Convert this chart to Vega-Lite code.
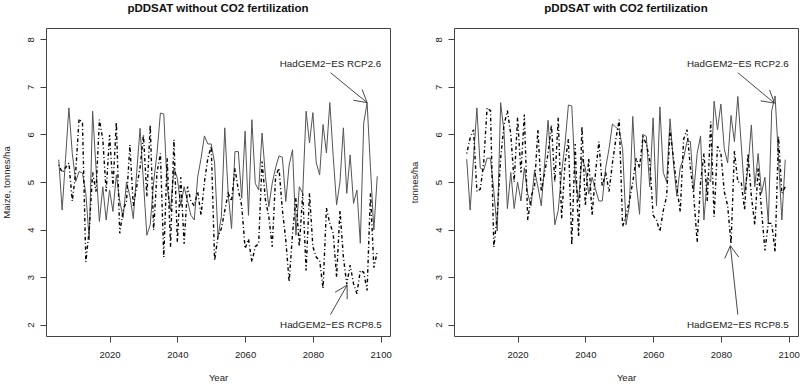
{
  "$schema": "https://vega.github.io/schema/vega-lite/v6.json",
  "background": "white",
  "padding": {"left": 0, "top": 2, "right": 0, "bottom": 2},
  "bounds": "flush",
  "spacing": 64,
  "config": {
    "view": {"stroke": "#444", "strokeWidth": 1},
    "font": "Liberation Sans",
    "axis": {"grid": false, "domain": false, "tickColor": "#444", "tickSize": 6, "labelFont": "Liberation Sans", "labelFontSize": 9.5, "labelColor": "#222", "titleFont": "Liberation Sans", "titleFontSize": 9.5, "titleFontWeight": "normal", "titleColor": "#222"},
    "title": {"font": "Liberation Sans", "fontSize": 11.5, "fontWeight": "bold", "color": "#111", "anchor": "middle", "offset": 14}
  },
  "datasets": {
    "yields": [
      {"year":2005,"no_co2_rcp26":5.47,"no_co2_rcp85":5.36,"co2_rcp26":5.48,"co2_rcp85":5.6},
      {"year":2006,"no_co2_rcp26":4.41,"no_co2_rcp85":5.2,"co2_rcp26":4.41,"co2_rcp85":5.92},
      {"year":2007,"no_co2_rcp26":5.48,"no_co2_rcp85":5.3,"co2_rcp26":5.5,"co2_rcp85":6.1},
      {"year":2008,"no_co2_rcp26":6.56,"no_co2_rcp85":5.4,"co2_rcp26":6.56,"co2_rcp85":4.8},
      {"year":2009,"no_co2_rcp26":5.6,"no_co2_rcp85":4.6,"co2_rcp26":5.29,"co2_rcp85":4.85},
      {"year":2010,"no_co2_rcp26":5.01,"no_co2_rcp85":5.2,"co2_rcp26":5.25,"co2_rcp85":5.4},
      {"year":2011,"no_co2_rcp26":5.22,"no_co2_rcp85":6.33,"co2_rcp26":5.5,"co2_rcp85":6.56},
      {"year":2012,"no_co2_rcp26":5.19,"no_co2_rcp85":6.24,"co2_rcp26":5.5,"co2_rcp85":6.5},
      {"year":2013,"no_co2_rcp26":4.76,"no_co2_rcp85":3.32,"co2_rcp26":4.8,"co2_rcp85":3.63},
      {"year":2014,"no_co2_rcp26":3.78,"no_co2_rcp85":4.0,"co2_rcp26":3.97,"co2_rcp85":4.3},
      {"year":2015,"no_co2_rcp26":6.49,"no_co2_rcp85":5.2,"co2_rcp26":6.67,"co2_rcp85":5.5},
      {"year":2016,"no_co2_rcp26":5.3,"no_co2_rcp85":4.8,"co2_rcp26":6.06,"co2_rcp85":6.2},
      {"year":2017,"no_co2_rcp26":4.17,"no_co2_rcp85":6.31,"co2_rcp26":4.44,"co2_rcp85":6.5},
      {"year":2018,"no_co2_rcp26":4.9,"no_co2_rcp85":5.9,"co2_rcp26":5.2,"co2_rcp85":6.0},
      {"year":2019,"no_co2_rcp26":4.2,"no_co2_rcp85":4.8,"co2_rcp26":4.44,"co2_rcp85":5.0},
      {"year":2020,"no_co2_rcp26":4.83,"no_co2_rcp85":5.99,"co2_rcp26":5.0,"co2_rcp85":6.35},
      {"year":2021,"no_co2_rcp26":4.38,"no_co2_rcp85":4.9,"co2_rcp26":4.6,"co2_rcp85":5.2},
      {"year":2022,"no_co2_rcp26":5.15,"no_co2_rcp85":6.26,"co2_rcp26":5.3,"co2_rcp85":6.42},
      {"year":2023,"no_co2_rcp26":4.6,"no_co2_rcp85":3.92,"co2_rcp26":4.75,"co2_rcp85":4.2},
      {"year":2024,"no_co2_rcp26":4.25,"no_co2_rcp85":4.4,"co2_rcp26":4.5,"co2_rcp85":4.7},
      {"year":2025,"no_co2_rcp26":5.0,"no_co2_rcp85":4.6,"co2_rcp26":5.25,"co2_rcp85":4.9},
      {"year":2026,"no_co2_rcp26":4.7,"no_co2_rcp85":5.78,"co2_rcp26":4.9,"co2_rcp85":6.1},
      {"year":2027,"no_co2_rcp26":4.23,"no_co2_rcp85":4.5,"co2_rcp26":4.5,"co2_rcp85":4.8},
      {"year":2028,"no_co2_rcp26":5.2,"no_co2_rcp85":4.9,"co2_rcp26":5.4,"co2_rcp85":5.2},
      {"year":2029,"no_co2_rcp26":6.13,"no_co2_rcp85":5.3,"co2_rcp26":6.3,"co2_rcp85":5.6},
      {"year":2030,"no_co2_rcp26":5.0,"no_co2_rcp85":5.99,"co2_rcp26":5.2,"co2_rcp85":6.2},
      {"year":2031,"no_co2_rcp26":3.88,"no_co2_rcp85":4.7,"co2_rcp26":4.1,"co2_rcp85":5.0},
      {"year":2032,"no_co2_rcp26":4.1,"no_co2_rcp85":6.2,"co2_rcp26":4.4,"co2_rcp85":6.35},
      {"year":2033,"no_co2_rcp26":5.0,"no_co2_rcp85":3.99,"co2_rcp26":5.2,"co2_rcp85":4.23},
      {"year":2034,"no_co2_rcp26":5.6,"no_co2_rcp85":5.2,"co2_rcp26":5.8,"co2_rcp85":5.4},
      {"year":2035,"no_co2_rcp26":6.45,"no_co2_rcp85":5.6,"co2_rcp26":6.62,"co2_rcp85":5.9},
      {"year":2036,"no_co2_rcp26":6.43,"no_co2_rcp85":3.42,"co2_rcp26":6.6,"co2_rcp85":3.67},
      {"year":2037,"no_co2_rcp26":4.9,"no_co2_rcp85":5.5,"co2_rcp26":5.1,"co2_rcp85":5.8},
      {"year":2038,"no_co2_rcp26":4.4,"no_co2_rcp85":3.64,"co2_rcp26":4.6,"co2_rcp85":3.85},
      {"year":2039,"no_co2_rcp26":5.3,"no_co2_rcp85":5.89,"co2_rcp26":5.5,"co2_rcp85":6.17},
      {"year":2040,"no_co2_rcp26":5.08,"no_co2_rcp85":3.74,"co2_rcp26":5.3,"co2_rcp85":4.5},
      {"year":2041,"no_co2_rcp26":4.5,"no_co2_rcp85":5.1,"co2_rcp26":4.75,"co2_rcp85":5.5},
      {"year":2042,"no_co2_rcp26":4.9,"no_co2_rcp85":3.7,"co2_rcp26":5.1,"co2_rcp85":4.3},
      {"year":2043,"no_co2_rcp26":4.6,"no_co2_rcp85":4.9,"co2_rcp26":4.85,"co2_rcp85":5.2},
      {"year":2044,"no_co2_rcp26":4.3,"no_co2_rcp85":4.6,"co2_rcp26":4.6,"co2_rcp85":5.85},
      {"year":2045,"no_co2_rcp26":4.2,"no_co2_rcp85":4.5,"co2_rcp26":4.6,"co2_rcp85":4.9},
      {"year":2046,"no_co2_rcp26":5.1,"no_co2_rcp85":4.8,"co2_rcp26":5.3,"co2_rcp85":5.2},
      {"year":2047,"no_co2_rcp26":5.5,"no_co2_rcp85":4.3,"co2_rcp26":5.7,"co2_rcp85":4.8},
      {"year":2048,"no_co2_rcp26":5.97,"no_co2_rcp85":5.0,"co2_rcp26":6.22,"co2_rcp85":5.4},
      {"year":2049,"no_co2_rcp26":5.8,"no_co2_rcp85":5.5,"co2_rcp26":6.15,"co2_rcp85":5.9},
      {"year":2050,"no_co2_rcp26":5.8,"no_co2_rcp85":5.75,"co2_rcp26":6.1,"co2_rcp85":6.31},
      {"year":2051,"no_co2_rcp26":5.4,"no_co2_rcp85":3.35,"co2_rcp26":5.7,"co2_rcp85":4.06},
      {"year":2052,"no_co2_rcp26":3.85,"no_co2_rcp85":3.85,"co2_rcp26":4.1,"co2_rcp85":4.3},
      {"year":2053,"no_co2_rcp26":4.27,"no_co2_rcp85":4.02,"co2_rcp26":4.5,"co2_rcp85":4.6},
      {"year":2054,"no_co2_rcp26":6.14,"no_co2_rcp85":4.4,"co2_rcp26":6.38,"co2_rcp85":5.0},
      {"year":2055,"no_co2_rcp26":4.76,"no_co2_rcp85":4.76,"co2_rcp26":5.0,"co2_rcp85":5.5},
      {"year":2056,"no_co2_rcp26":4.02,"no_co2_rcp85":4.6,"co2_rcp26":4.32,"co2_rcp85":5.3},
      {"year":2057,"no_co2_rcp26":5.64,"no_co2_rcp85":5.29,"co2_rcp26":6.0,"co2_rcp85":5.95},
      {"year":2058,"no_co2_rcp26":5.64,"no_co2_rcp85":4.83,"co2_rcp26":5.96,"co2_rcp85":5.8},
      {"year":2059,"no_co2_rcp26":4.66,"no_co2_rcp85":4.5,"co2_rcp26":4.9,"co2_rcp85":5.45},
      {"year":2060,"no_co2_rcp26":6.07,"no_co2_rcp85":3.6,"co2_rcp26":6.35,"co2_rcp85":4.3},
      {"year":2061,"no_co2_rcp26":4.3,"no_co2_rcp85":3.8,"co2_rcp26":4.5,"co2_rcp85":4.2},
      {"year":2062,"no_co2_rcp26":6.31,"no_co2_rcp85":3.32,"co2_rcp26":6.58,"co2_rcp85":3.96},
      {"year":2063,"no_co2_rcp26":4.97,"no_co2_rcp85":3.64,"co2_rcp26":5.2,"co2_rcp85":4.4},
      {"year":2064,"no_co2_rcp26":4.83,"no_co2_rcp85":3.7,"co2_rcp26":5.0,"co2_rcp85":4.7},
      {"year":2065,"no_co2_rcp26":6.03,"no_co2_rcp85":5.43,"co2_rcp26":6.33,"co2_rcp85":6.1},
      {"year":2066,"no_co2_rcp26":5.12,"no_co2_rcp85":4.62,"co2_rcp26":5.4,"co2_rcp85":5.5},
      {"year":2067,"no_co2_rcp26":4.48,"no_co2_rcp85":4.27,"co2_rcp26":4.7,"co2_rcp85":4.9},
      {"year":2068,"no_co2_rcp26":4.97,"no_co2_rcp85":3.64,"co2_rcp26":5.3,"co2_rcp85":4.37},
      {"year":2069,"no_co2_rcp26":5.3,"no_co2_rcp85":5.12,"co2_rcp26":5.5,"co2_rcp85":5.9},
      {"year":2070,"no_co2_rcp26":5.55,"no_co2_rcp85":5.29,"co2_rcp26":5.85,"co2_rcp85":6.1},
      {"year":2071,"no_co2_rcp26":5.52,"no_co2_rcp85":4.41,"co2_rcp26":5.85,"co2_rcp85":5.3},
      {"year":2072,"no_co2_rcp26":4.59,"no_co2_rcp85":3.78,"co2_rcp26":4.8,"co2_rcp85":4.7},
      {"year":2073,"no_co2_rcp26":5.36,"no_co2_rcp85":2.9,"co2_rcp26":5.6,"co2_rcp85":3.74},
      {"year":2074,"no_co2_rcp26":5.68,"no_co2_rcp85":3.92,"co2_rcp26":5.97,"co2_rcp85":4.98},
      {"year":2075,"no_co2_rcp26":3.88,"no_co2_rcp85":4.66,"co2_rcp26":4.2,"co2_rcp85":5.6},
      {"year":2076,"no_co2_rcp26":4.9,"no_co2_rcp85":3.64,"co2_rcp26":5.1,"co2_rcp85":4.6},
      {"year":2077,"no_co2_rcp26":4.76,"no_co2_rcp85":4.76,"co2_rcp26":5.0,"co2_rcp85":6.27},
      {"year":2078,"no_co2_rcp26":6.49,"no_co2_rcp85":3.14,"co2_rcp26":6.7,"co2_rcp85":4.27},
      {"year":2079,"no_co2_rcp26":5.82,"no_co2_rcp85":4.76,"co2_rcp26":6.1,"co2_rcp85":5.75},
      {"year":2080,"no_co2_rcp26":6.46,"no_co2_rcp85":3.64,"co2_rcp26":6.64,"co2_rcp85":5.6},
      {"year":2081,"no_co2_rcp26":5.4,"no_co2_rcp85":3.42,"co2_rcp26":5.7,"co2_rcp85":4.8},
      {"year":2082,"no_co2_rcp26":5.15,"no_co2_rcp85":3.35,"co2_rcp26":5.4,"co2_rcp85":4.5},
      {"year":2083,"no_co2_rcp26":6.21,"no_co2_rcp85":2.76,"co2_rcp26":6.4,"co2_rcp85":3.7},
      {"year":2084,"no_co2_rcp26":5.61,"no_co2_rcp85":4.45,"co2_rcp26":5.85,"co2_rcp85":5.65},
      {"year":2085,"no_co2_rcp26":6.67,"no_co2_rcp85":4.13,"co2_rcp26":6.8,"co2_rcp85":5.0},
      {"year":2086,"no_co2_rcp26":5.54,"no_co2_rcp85":3.92,"co2_rcp26":5.8,"co2_rcp85":5.0},
      {"year":2087,"no_co2_rcp26":4.52,"no_co2_rcp85":3.0,"co2_rcp26":4.75,"co2_rcp85":4.41},
      {"year":2088,"no_co2_rcp26":5.0,"no_co2_rcp85":4.4,"co2_rcp26":5.3,"co2_rcp85":5.6},
      {"year":2089,"no_co2_rcp26":6.14,"no_co2_rcp85":3.42,"co2_rcp26":6.2,"co2_rcp85":4.7},
      {"year":2090,"no_co2_rcp26":4.76,"no_co2_rcp85":2.85,"co2_rcp26":4.9,"co2_rcp85":4.1},
      {"year":2091,"no_co2_rcp26":5.57,"no_co2_rcp85":3.25,"co2_rcp26":5.6,"co2_rcp85":5.3},
      {"year":2092,"no_co2_rcp26":4.55,"no_co2_rcp85":2.86,"co2_rcp26":4.76,"co2_rcp85":4.4},
      {"year":2093,"no_co2_rcp26":4.83,"no_co2_rcp85":2.65,"co2_rcp26":5.1,"co2_rcp85":3.56},
      {"year":2094,"no_co2_rcp26":3.71,"no_co2_rcp85":3.14,"co2_rcp26":4.13,"co2_rcp85":4.13},
      {"year":2095,"no_co2_rcp26":6.24,"no_co2_rcp85":3.1,"co2_rcp26":6.5,"co2_rcp85":4.13},
      {"year":2096,"no_co2_rcp26":6.67,"no_co2_rcp85":2.72,"co2_rcp26":6.81,"co2_rcp85":3.53},
      {"year":2097,"no_co2_rcp26":5.3,"no_co2_rcp85":4.76,"co2_rcp26":5.5,"co2_rcp85":5.96},
      {"year":2098,"no_co2_rcp26":3.99,"no_co2_rcp85":3.2,"co2_rcp26":4.2,"co2_rcp85":4.76},
      {"year":2099,"no_co2_rcp26":5.12,"no_co2_rcp85":3.53,"co2_rcp26":5.47,"co2_rcp85":4.9}
    ],
    "arrows": [
      {"panel":"L","x":2085.2,"y":7.3,"x2":2096.0,"y2":6.67},
      {"panel":"L","x":2096.0,"y":6.67,"x2":2094.53,"y2":6.947},
      {"panel":"L","x":2096.0,"y":6.67,"x2":2091.94,"y2":6.719},
      {"panel":"L","x":2085.2,"y":2.21,"x2":2090.1,"y2":2.83},
      {"panel":"L","x":2090.1,"y":2.83,"x2":2086.56,"y2":2.681},
      {"panel":"L","x":2090.1,"y":2.83,"x2":2090.13,"y2":2.535},
      {"panel":"R","x":2085.0,"y":7.3,"x2":2095.8,"y2":6.66},
      {"panel":"R","x":2095.8,"y":6.66,"x2":2094.36,"y2":6.937},
      {"panel":"R","x":2095.8,"y":6.66,"x2":2091.73,"y2":6.708},
      {"panel":"R","x":2085.0,"y":2.21,"x2":2082.8,"y2":3.66},
      {"panel":"R","x":2082.8,"y":3.66,"x2":2081.13,"y2":3.389},
      {"panel":"R","x":2082.8,"y":3.66,"x2":2085.26,"y2":3.421}
    ],
    "labels": [
      {"panel":"L","x":2085.2,"y":7.49,"t":"HadGEM2−ES RCP2.6"},
      {"panel":"L","x":2085.3,"y":2.0,"t":"HadGEM2−ES RCP8.5"},
      {"panel":"R","x":2085.0,"y":7.49,"t":"HadGEM2−ES RCP2.6"},
      {"panel":"R","x":2085.0,"y":2.0,"t":"HadGEM2−ES RCP8.5"}
    ]
  },
  "hconcat": [
    {
      "width": 344,
      "height": 308,
      "title": "pDDSAT without CO2 fertilization",
      "data": {"name": "yields"},
      "layer": [
        {
          "mark": {"type": "line", "color": "#555", "strokeWidth": 1},
          "encoding": {
            "x": {"field": "year", "type": "quantitative", "scale": {"domain": [2001.24, 2102.76], "nice": false, "zero": false}, "axis": {"values": [2020, 2040, 2060, 2080, 2100], "format": "d", "title": "Year", "labelPadding": 7, "titlePadding": 14}},
            "y": {"field": "no_co2_rcp26", "type": "quantitative", "scale": {"domain": [1.76, 8.24], "nice": false, "zero": false}, "axis": {"values": [2, 3, 4, 5, 6, 7, 8], "title": "Maize, tonnes/ha", "labelAngle": -90, "labelAlign": "center", "labelBaseline": "bottom", "labelPadding": 5, "titlePadding": 14}}
          }
        },
        {
          "mark": {"type": "line", "color": "black", "strokeWidth": 1.4, "strokeDash": [1, 2.5, 3.5, 2.5]},
          "encoding": {
            "x": {"field": "year", "type": "quantitative", "scale": {"domain": [2001.24, 2102.76], "nice": false, "zero": false}},
            "y": {"field": "no_co2_rcp85", "type": "quantitative", "scale": {"domain": [1.76, 8.24], "nice": false, "zero": false}}
          }
        },
        {
          "data": {"name": "arrows"},
          "transform": [{"filter": "datum.panel === 'L'"}],
          "mark": {"type": "rule", "color": "#333", "strokeWidth": 0.9},
          "encoding": {
            "x": {"field": "x", "type": "quantitative", "scale": {"domain": [2001.24, 2102.76], "nice": false, "zero": false}},
            "y": {"field": "y", "type": "quantitative", "scale": {"domain": [1.76, 8.24], "nice": false, "zero": false}},
            "x2": {"field": "x2"},
            "y2": {"field": "y2"}
          }
        },
        {
          "data": {"name": "labels"},
          "transform": [{"filter": "datum.panel === 'L'"}],
          "mark": {"type": "text", "fontSize": 9.8, "color": "#222", "align": "center", "baseline": "middle", "font": "Liberation Sans"},
          "encoding": {
            "x": {"field": "x", "type": "quantitative", "scale": {"domain": [2001.24, 2102.76], "nice": false, "zero": false}},
            "y": {"field": "y", "type": "quantitative", "scale": {"domain": [1.76, 8.24], "nice": false, "zero": false}},
            "text": {"field": "t"}
          }
        }
      ]
    },
    {
      "width": 344,
      "height": 308,
      "title": "pDDSAT with CO2 fertilization",
      "data": {"name": "yields"},
      "layer": [
        {
          "mark": {"type": "line", "color": "#555", "strokeWidth": 1},
          "encoding": {
            "x": {"field": "year", "type": "quantitative", "scale": {"domain": [2001.24, 2102.76], "nice": false, "zero": false}, "axis": {"values": [2020, 2040, 2060, 2080, 2100], "format": "d", "title": "Year", "labelPadding": 7, "titlePadding": 14}},
            "y": {"field": "co2_rcp26", "type": "quantitative", "scale": {"domain": [1.76, 8.24], "nice": false, "zero": false}, "axis": {"values": [2, 3, 4, 5, 6, 7, 8], "title": "tonnes/ha", "labelAngle": -90, "labelAlign": "center", "labelBaseline": "bottom", "labelPadding": 5, "titlePadding": 14}}
          }
        },
        {
          "mark": {"type": "line", "color": "black", "strokeWidth": 1.4, "strokeDash": [1, 2.5, 3.5, 2.5]},
          "encoding": {
            "x": {"field": "year", "type": "quantitative", "scale": {"domain": [2001.24, 2102.76], "nice": false, "zero": false}},
            "y": {"field": "co2_rcp85", "type": "quantitative", "scale": {"domain": [1.76, 8.24], "nice": false, "zero": false}}
          }
        },
        {
          "data": {"name": "arrows"},
          "transform": [{"filter": "datum.panel === 'R'"}],
          "mark": {"type": "rule", "color": "#333", "strokeWidth": 0.9},
          "encoding": {
            "x": {"field": "x", "type": "quantitative", "scale": {"domain": [2001.24, 2102.76], "nice": false, "zero": false}},
            "y": {"field": "y", "type": "quantitative", "scale": {"domain": [1.76, 8.24], "nice": false, "zero": false}},
            "x2": {"field": "x2"},
            "y2": {"field": "y2"}
          }
        },
        {
          "data": {"name": "labels"},
          "transform": [{"filter": "datum.panel === 'R'"}],
          "mark": {"type": "text", "fontSize": 9.8, "color": "#222", "align": "center", "baseline": "middle", "font": "Liberation Sans"},
          "encoding": {
            "x": {"field": "x", "type": "quantitative", "scale": {"domain": [2001.24, 2102.76], "nice": false, "zero": false}},
            "y": {"field": "y", "type": "quantitative", "scale": {"domain": [1.76, 8.24], "nice": false, "zero": false}},
            "text": {"field": "t"}
          }
        }
      ]
    }
  ]
}
